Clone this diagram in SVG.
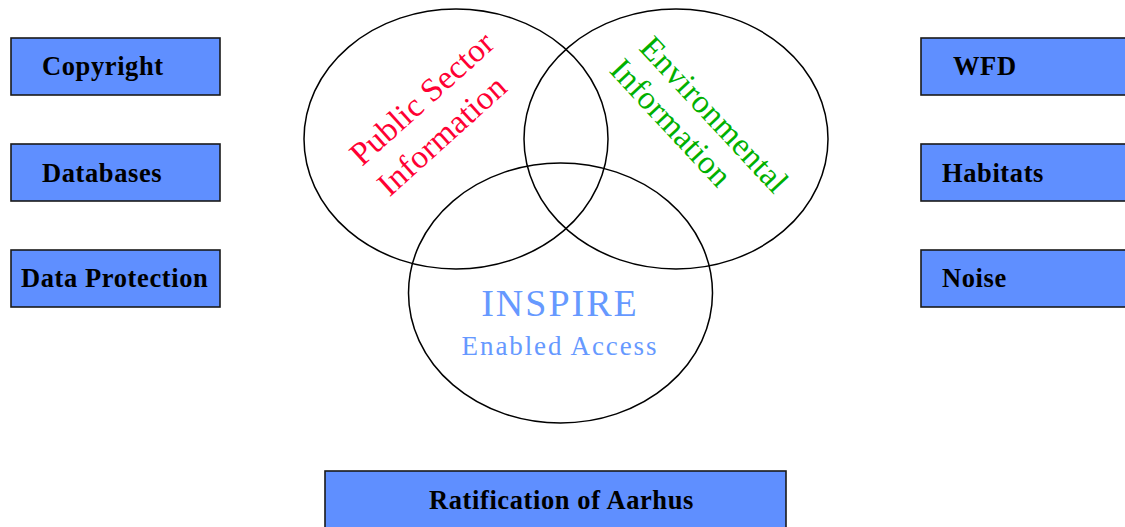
<svg xmlns="http://www.w3.org/2000/svg" width="1125" height="527" viewBox="0 0 1125 527">
<style>
.box{fill:#5F8FFF;stroke:#1a1a1a;stroke-width:1.6}
.bt{font-family:"Liberation Serif","Times New Roman",serif;font-weight:bold;font-size:26.5px;fill:#000;letter-spacing:0.6px}
.ell{fill:none;stroke:#000;stroke-width:1.5}
.big{font-family:"Liberation Serif","Times New Roman",serif;font-size:33px;letter-spacing:0.3px}
.ins{font-family:"Liberation Serif","Times New Roman",serif;fill:#6699FF;text-anchor:middle}
</style>
<rect width="1125" height="527" fill="#fff"/>
<g id="copyright"><rect class="box" x="11" y="38" width="209" height="57"/><text class="bt" x="42" y="75">Copyright</text></g>
<g id="databases"><rect class="box" x="11" y="144" width="209" height="57"/><text class="bt" x="42" y="181.5">Databases</text></g>
<g id="dataprotection"><rect class="box" x="11" y="250" width="209" height="57"/><text class="bt" x="21" y="286.5">Data Protection</text></g>
<g id="wfd"><rect class="box" x="921" y="38" width="215" height="57"/><text class="bt" x="953" y="75">WFD</text></g>
<g id="habitats"><rect class="box" x="921" y="144" width="215" height="57"/><text class="bt" x="942" y="181.5">Habitats</text></g>
<g id="noise"><rect class="box" x="921" y="250" width="215" height="57"/><text class="bt" x="942" y="286.5">Noise</text></g>
<g id="aarhus"><rect class="box" x="325" y="471" width="461" height="70"/><text class="bt" x="429" y="509">Ratification of Aarhus</text></g>
<g id="psi">
<ellipse class="ell" cx="456" cy="139" rx="152" ry="130"/>
<g transform="translate(362,167) rotate(-42)"><text class="big" fill="#FF0033" x="0" y="0">Public Sector</text><text class="big" fill="#FF0033" x="0" y="41">Information</text></g>
</g>
<g id="env">
<ellipse class="ell" cx="676" cy="139" rx="152" ry="130"/>
<g transform="translate(638,49) rotate(47)"><text class="big" fill="#00B000" x="0" y="0">Environmental</text><text class="big" fill="#00B000" x="-4" y="37">Information</text></g>
</g>
<g id="inspire">
<ellipse class="ell" cx="560.5" cy="293" rx="152" ry="130"/>
<text class="ins" x="560" y="315.5" font-size="38" letter-spacing="2">INSPIRE</text>
<text class="ins" x="560" y="355" font-size="27" letter-spacing="1.9">Enabled Access</text>
</g>
<g id="connectors"/>
</svg>
